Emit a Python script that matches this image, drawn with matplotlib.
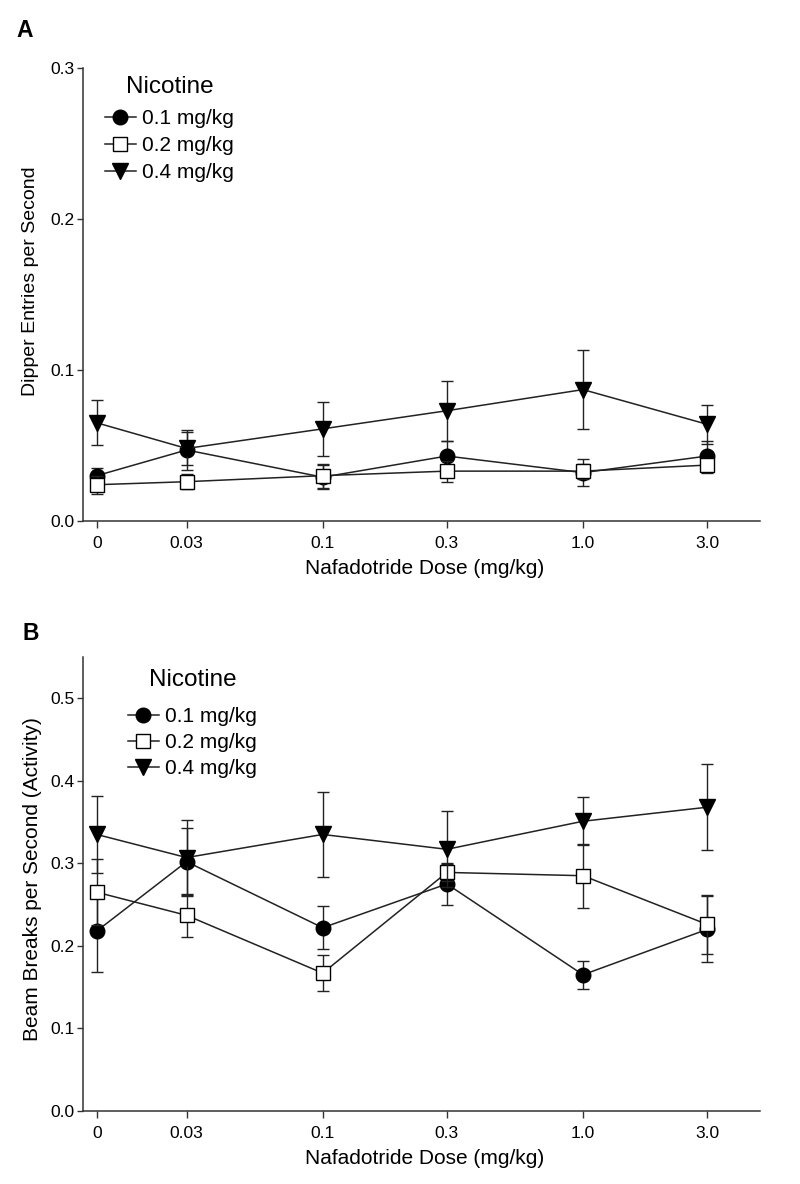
import numpy as np
import matplotlib
matplotlib.use('Agg')
import matplotlib.pyplot as plt
from matplotlib.lines import Line2D

plt.rcParams['font.family'] = ['Liberation Sans', 'DejaVu Sans']

doses = [0, 0.03, 0.1, 0.3, 1.0, 3.0]
dose_labels = ['0', '0.03', '0.1', '0.3', '1.0', '3.0']
series_labels = ['0.1 mg/kg', '0.2 mg/kg', '0.4 mg/kg']

dipper_01 = [0.030, 0.047, 0.029, 0.043, 0.032, 0.043]
dipper_01_sem = [0.005, 0.013, 0.008, 0.010, 0.009, 0.010]
dipper_02 = [0.024, 0.026, 0.030, 0.033, 0.033, 0.037]
dipper_02_sem = [0.006, 0.005, 0.008, 0.007, 0.005, 0.005]
dipper_04 = [0.065, 0.048, 0.061, 0.073, 0.087, 0.064]
dipper_04_sem = [0.015, 0.011, 0.018, 0.020, 0.026, 0.013]

beam_01 = [0.218, 0.302, 0.222, 0.275, 0.165, 0.220]
beam_01_sem = [0.050, 0.041, 0.026, 0.025, 0.017, 0.040]
beam_02 = [0.265, 0.237, 0.167, 0.289, 0.285, 0.226]
beam_02_sem = [0.040, 0.026, 0.022, 0.010, 0.039, 0.036]
beam_04 = [0.335, 0.307, 0.335, 0.317, 0.351, 0.368]
beam_04_sem = [0.047, 0.045, 0.051, 0.046, 0.029, 0.052]

d = np.array(doses, dtype=float)
xpos = np.where(d == 0, np.log10(0.03) - 0.345, np.log10(np.where(d == 0, 1, d)))

styles = [
    dict(marker='o', mfc='black', mec='black', ms=10.5),
    dict(marker='s', mfc='white', mec='black', ms=10),
    dict(marker='v', mfc='black', mec='black', ms=11),
]
order = [2, 0, 1]
LC = '#222222'

fig = plt.figure(figsize=(8, 11.84), dpi=100)
axA = fig.add_axes([0.104, 0.56, 0.846, 0.3826])
axB = fig.add_axes([0.104, 0.0617, 0.846, 0.3834])


def panel(ax, means, sems, ylim, yticks, ylabel, ylab_size, ylab_coords,
          leg_anchor, leg_spacing, leg_sep):
    for i in order:
        ax.errorbar(xpos, means[i], yerr=sems[i], color=LC, lw=1.1,
                    ecolor=LC, elinewidth=1.0, capsize=4.5, capthick=1.0,
                    mew=1.0, zorder=3 + i, **styles[i])
    ax.set_xlim(-1.92, 0.68)
    ax.set_ylim(*ylim)
    ax.set_xticks(xpos)
    ax.set_xticklabels(dose_labels)
    ax.set_yticks(yticks)
    ax.set_yticklabels(['%.1f' % t for t in yticks])
    for s in ['top', 'right']:
        ax.spines[s].set_visible(False)
    for s in ['left', 'bottom']:
        ax.spines[s].set_linewidth(1.1)
        ax.spines[s].set_color('#333333')
    ax.tick_params(axis='x', direction='out', length=5, width=1.0, labelsize=12.5,
                   color='#333333', pad=5.5)
    ax.tick_params(axis='y', direction='out', length=4, width=1.0, labelsize=12.5,
                   color='#333333', pad=2)
    ax.set_xlabel('Nafadotride Dose (mg/kg)', fontsize=15)
    ax.xaxis.set_label_coords(0.504, -0.084)
    ax.set_ylabel(ylabel, fontsize=ylab_size)
    ax.yaxis.set_label_coords(*ylab_coords)
    handles = [Line2D([], [], color=LC, lw=1.1, mew=1.0, **styles[i]) for i in range(3)]
    leg = ax.legend(handles, series_labels, title='Nicotine', loc='upper left',
                    bbox_to_anchor=leg_anchor, frameon=False, fontsize=15,
                    title_fontsize=17.5, handlelength=1.5, handletextpad=0.3,
                    labelspacing=leg_spacing, borderpad=0, borderaxespad=0)
    leg._legend_box.sep = leg_sep


panel(axA, [dipper_01, dipper_02, dipper_04], [dipper_01_sem, dipper_02_sem, dipper_04_sem],
      (0, 0.3), [0.0, 0.1, 0.2, 0.3], 'Dipper Entries per Second', 14, (-0.065, 0.53),
      (0.032, 0.982), 0.38, 8)
panel(axB, [beam_01, beam_02, beam_04], [beam_01_sem, beam_02_sem, beam_04_sem],
      (0, 0.55), [0.0, 0.1, 0.2, 0.3, 0.4, 0.5], 'Beam Breaks per Second (Activity)', 15,
      (-0.0606, 0.511), (0.066, 0.974), 0.32, 12)

fig.text(16 / 800, 1 - 37 / 1184, 'A', fontsize=16.5, fontweight='bold', ha='left', va='baseline')
fig.text(23 / 800, 1 - 640 / 1184, 'B', fontsize=16.5, fontweight='bold', ha='left', va='baseline')

fig.savefig('out.png', dpi=100)
